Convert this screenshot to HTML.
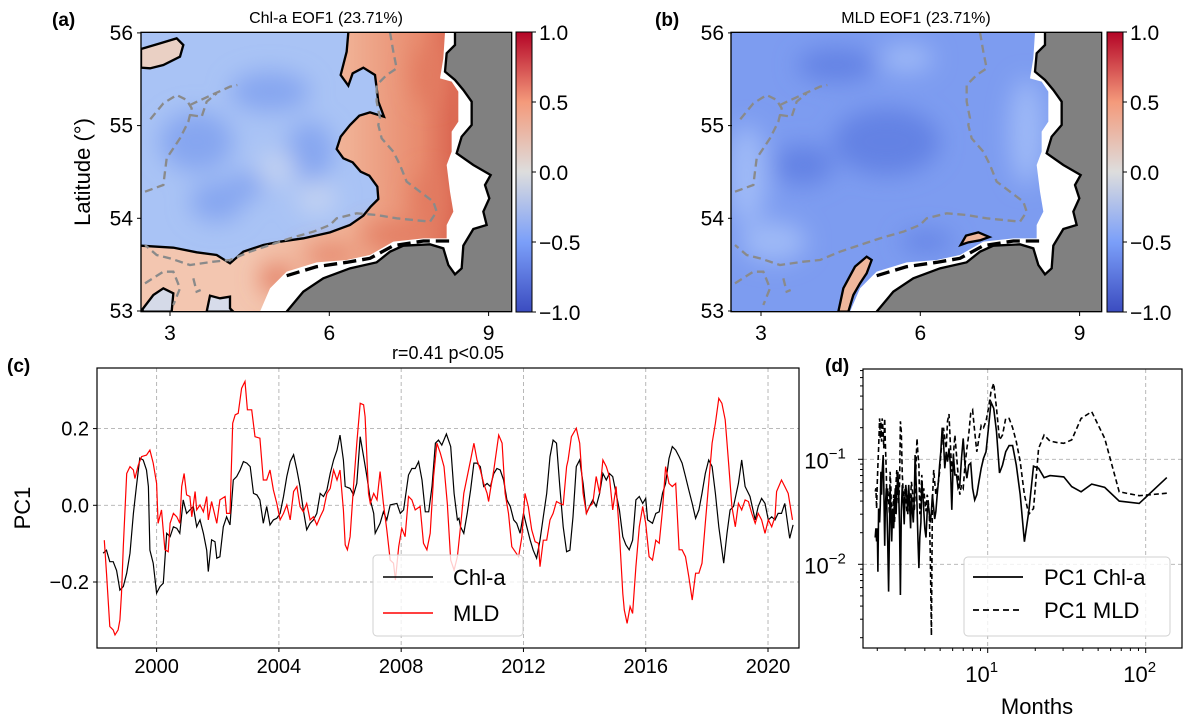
<!DOCTYPE html>
<html><head><meta charset="utf-8">
<style>
body{margin:0;background:#fff;}
svg{display:block;font-family:"Liberation Sans",Arial,sans-serif;}
</style></head>
<body>
<svg id="fig" width="1194" height="725" viewBox="0 0 1194 725" xmlns="http://www.w3.org/2000/svg">
<defs>
  <linearGradient id="cw" x1="0" y1="1" x2="0" y2="0">
    <stop offset="0" stop-color="#3b4cc0"/><stop offset="0.25" stop-color="#7b9ff9"/>
    <stop offset="0.5" stop-color="#dddddd"/><stop offset="0.75" stop-color="#f49a7b"/>
    <stop offset="1" stop-color="#b40426"/>
  </linearGradient>
  <linearGradient id="redA" gradientUnits="userSpaceOnUse" x1="350" y1="0" x2="960" y2="0">
    <stop offset="0" stop-color="#f3c6b0"/><stop offset="0.5" stop-color="#f0b094"/>
    <stop offset="0.85" stop-color="#e88b6e"/><stop offset="1" stop-color="#dc6a54"/>
  </linearGradient>
  <filter id="blur" x="-50%" y="-50%" width="200%" height="200%"><feGaussianBlur stdDeviation="35"/></filter>
  <clipPath id="mapclip"><rect x="33" y="22" width="1112" height="838"/></clipPath>
</defs>

<text x="52" y="26" font-size="19" font-weight="bold">(a)</text>
<text x="326" y="23" font-size="16" text-anchor="middle">Chl-a EOF1 (23.71%)</text>
<text x="655" y="26" font-size="19" font-weight="bold">(b)</text>
<text x="916" y="23" font-size="16" text-anchor="middle">MLD EOF1 (23.71%)</text>
<text x="7" y="372" font-size="19" font-weight="bold">(c)</text>
<text x="448" y="359" font-size="18" text-anchor="middle">r=0.41 p&lt;0.05</text>
<text x="825" y="372" font-size="19" font-weight="bold">(d)</text>

<g id="mapA" transform="translate(130,25) scale(0.33333)"></g>
<g id="mapB" transform="translate(720,25) scale(0.33333)"></g>

<g id="cbA"></g>
<g id="cbB"></g>
<g id="mapAxes"></g>
<text transform="translate(90,172) rotate(-90)" font-size="22" text-anchor="middle">Latitude (°)</text>

<g id="panelC"></g>
<g id="panelD"></g>
</svg>

<script>
// ---------- Panel (c) data ----------
const chlYears=[1998.25,1998.36,1998.47,1998.58,1998.69,1998.80,1998.91,1999.02,1999.13,1999.24,1999.34,1999.45,1999.56,1999.67,1999.73,1999.78,1999.89,2000.00,2000.11,2000.22,2000.33,2000.44,2000.55,2000.66,2000.76,2000.87,2000.98,2001.09,2001.20,2001.31,2001.42,2001.53,2001.64,2001.69,2001.80,2001.91,2001.97,2002.07,2002.18,2002.29,2002.40,2002.51,2002.62,2002.73,2002.84,2002.95,2003.06,2003.17,2003.28,2003.38,2003.49,2003.60,2003.71,2003.82,2003.93,2004.04,2004.15,2004.26,2004.37,2004.48,2004.59,2004.69,2004.80,2004.91,2005.02,2005.13,2005.24,2005.35,2005.46,2005.57,2005.68,2005.79,2005.90,2006.00,2006.11,2006.17,2006.33,2006.44,2006.55,2006.66,2006.77,2006.88,2006.99,2007.10,2007.15,2007.31,2007.42,2007.53,2007.64,2007.86,2007.97,2008.08,2008.24,2008.35,2008.46,2008.57,2008.68,2008.79,2008.90,2009.01,2009.12,2009.22,2009.33,2009.48,2009.62,2009.73,2009.84,2009.89,2009.94,2010.05,2010.16,2010.27,2010.38,2010.48,2010.59,2010.70,2010.81,2010.92,2011.03,2011.13,2011.24,2011.35,2011.46,2011.57,2011.68,2011.78,2011.89,2012.00,2012.11,2012.22,2012.32,2012.43,2012.54,2012.65,2012.76,2012.87,2012.97,2013.08,2013.19,2013.30,2013.41,2013.52,2013.62,2013.73,2013.84,2013.95,2014.06,2014.16,2014.27,2014.38,2014.49,2014.60,2014.71,2014.81,2014.92,2015.03,2015.14,2015.25,2015.35,2015.46,2015.57,2015.68,2015.79,2015.90,2016.00,2016.06,2016.22,2016.33,2016.44,2016.55,2016.65,2016.76,2016.87,2016.98,2017.09,2017.19,2017.30,2017.41,2017.52,2017.63,2017.74,2017.84,2017.95,2018.06,2018.17,2018.28,2018.39,2018.55,2018.66,2018.76,2018.87,2019.03,2019.14,2019.25,2019.41,2019.58,2019.68,2019.79,2019.90,2020.01,2020.12,2020.23,2020.33,2020.44,2020.55,2020.71,2020.82];
const chlValues=[-0.125,-0.117,-0.147,-0.147,-0.170,-0.221,-0.212,-0.177,-0.125,-0.021,0.049,0.123,0.118,0.092,0.049,-0.117,-0.151,-0.229,-0.212,-0.203,-0.073,-0.082,-0.056,-0.060,-0.073,0.014,-0.021,-0.012,-0.003,-0.056,-0.038,-0.073,-0.117,-0.173,-0.090,-0.095,-0.138,-0.134,-0.056,-0.030,-0.051,0.066,0.075,0.092,0.114,0.110,0.101,0.031,0.027,0.014,-0.047,-0.003,-0.051,-0.038,-0.034,-0.021,0.023,0.075,0.114,0.132,0.092,0.049,-0.012,-0.064,-0.047,-0.038,-0.021,0.031,0.023,0.040,0.083,0.118,0.144,0.183,0.118,0.049,0.044,0.027,0.057,0.179,0.127,0.075,0.014,-0.021,-0.073,-0.047,-0.017,-0.038,0.001,0.005,-0.021,-0.012,0.079,0.096,0.096,0.114,0.066,-0.017,-0.017,0.049,0.162,0.170,0.157,0.186,0.153,0.031,-0.038,-0.034,-0.056,-0.073,-0.021,0.040,0.110,0.110,0.101,0.049,0.057,0.049,0.083,0.096,0.092,0.066,0.014,-0.003,-0.038,-0.047,-0.073,-0.021,-0.056,-0.091,-0.117,-0.138,-0.091,-0.030,0.031,0.127,0.170,0.162,0.049,-0.056,-0.121,-0.117,-0.030,0.101,0.118,0.057,-0.021,-0.003,0.014,-0.003,0.031,0.083,0.066,0.083,0.075,0.031,-0.012,-0.082,-0.103,-0.116,-0.091,0.014,0.023,0.005,0.018,-0.038,-0.047,-0.021,-0.017,0.031,0.057,0.122,0.153,0.144,0.127,0.110,0.075,0.040,0.005,-0.034,-0.012,0.031,0.083,0.118,0.101,0.031,-0.056,-0.151,-0.073,-0.012,-0.003,0.057,0.118,0.049,0.023,-0.038,-0.003,0.018,0.005,-0.038,-0.030,-0.038,-0.021,-0.021,0.005,-0.086,-0.051];
const mldYears=[1998.29,1998.36,1998.47,1998.58,1998.64,1998.74,1998.80,1998.85,1998.91,1999.02,1999.13,1999.24,1999.29,1999.40,1999.51,1999.67,1999.78,1999.89,2000.00,2000.05,2000.16,2000.27,2000.38,2000.44,2000.55,2000.66,2000.76,2000.82,2000.90,2000.98,2001.09,2001.15,2001.26,2001.31,2001.42,2001.53,2001.64,2001.69,2001.80,2001.97,2002.07,2002.24,2002.29,2002.40,2002.49,2002.57,2002.67,2002.78,2002.89,2002.97,2003.11,2003.22,2003.38,2003.49,2003.60,2003.71,2003.82,2003.93,2004.04,2004.15,2004.26,2004.37,2004.48,2004.59,2004.69,2004.80,2004.91,2005.02,2005.13,2005.24,2005.35,2005.46,2005.57,2005.68,2005.79,2005.90,2006.00,2006.11,2006.17,2006.24,2006.33,2006.44,2006.55,2006.66,2006.77,2006.82,2006.93,2006.99,2007.10,2007.21,2007.31,2007.42,2007.53,2007.64,2007.75,2007.81,2007.92,2008.02,2008.13,2008.24,2008.35,2008.46,2008.62,2008.73,2008.84,2008.95,2009.06,2009.17,2009.28,2009.40,2009.51,2009.62,2009.73,2009.84,2009.94,2010.05,2010.27,2010.38,2010.48,2010.59,2010.70,2010.81,2010.86,2010.92,2011.03,2011.19,2011.30,2011.40,2011.51,2011.62,2011.73,2011.84,2011.95,2012.05,2012.16,2012.27,2012.38,2012.49,2012.54,2012.65,2012.76,2012.87,2012.97,2013.08,2013.19,2013.30,2013.41,2013.46,2013.57,2013.73,2013.84,2013.95,2014.06,2014.16,2014.27,2014.38,2014.49,2014.60,2014.71,2014.81,2014.92,2015.03,2015.14,2015.25,2015.30,2015.39,2015.49,2015.57,2015.68,2015.79,2015.90,2016.00,2016.11,2016.22,2016.33,2016.44,2016.55,2016.65,2016.76,2016.87,2016.98,2017.09,2017.19,2017.30,2017.41,2017.52,2017.63,2017.74,2017.84,2017.95,2018.06,2018.17,2018.28,2018.39,2018.49,2018.60,2018.71,2018.82,2018.93,2019.03,2019.14,2019.25,2019.36,2019.47,2019.58,2019.68,2019.79,2019.90,2020.01,2020.12,2020.23,2020.28,2020.44,2020.55,2020.66,2020.80];
const mldValues=[-0.091,-0.177,-0.316,-0.325,-0.338,-0.325,-0.299,-0.230,-0.108,0.083,0.101,0.092,0.070,0.105,0.127,0.131,0.144,0.110,0.057,-0.047,-0.012,-0.116,-0.121,-0.047,-0.021,-0.030,-0.047,0.049,0.083,0.027,0.023,-0.030,0.036,-0.012,0.001,-0.017,0.023,-0.038,0.010,-0.047,0.014,0.023,-0.021,-0.021,0.214,0.236,0.240,0.305,0.323,0.249,0.249,0.179,0.175,0.066,0.066,0.092,0.040,0.005,-0.038,-0.021,0.001,-0.038,0.036,0.049,-0.003,-0.017,0.005,-0.038,-0.030,-0.051,-0.030,-0.012,0.031,0.044,0.092,0.066,0.092,-0.012,-0.103,-0.116,-0.082,0.049,0.162,0.266,0.262,0.231,0.031,0.005,0.031,0.014,0.088,0.005,-0.064,-0.143,-0.151,-0.195,-0.108,-0.060,-0.082,0.023,0.014,-0.012,-0.003,-0.099,-0.116,-0.073,0.075,0.162,0.136,0.101,0.005,-0.143,-0.169,-0.134,-0.056,0.031,0.118,0.162,0.118,0.092,0.057,0.031,0.010,0.040,0.092,0.183,0.162,0.031,-0.021,-0.108,-0.121,-0.134,-0.082,0.031,-0.003,-0.064,-0.095,-0.099,-0.160,-0.091,-0.091,-0.038,-0.021,0.010,0.005,0.001,0.101,0.118,0.179,0.201,0.162,0.031,-0.021,-0.003,0.005,0.075,0.031,0.118,0.101,0.075,-0.012,0.049,-0.073,-0.230,-0.273,-0.308,-0.264,-0.282,-0.160,-0.056,-0.003,-0.047,-0.134,-0.143,-0.091,-0.099,-0.012,0.101,0.057,0.049,0.057,-0.116,-0.116,-0.134,-0.186,-0.247,-0.177,-0.177,-0.151,-0.047,0.057,0.162,0.214,0.279,0.266,0.223,0.110,-0.003,-0.056,0.005,-0.012,0.014,0.010,-0.021,-0.047,-0.021,-0.038,-0.073,-0.038,-0.056,-0.030,0.036,0.066,0.049,0.031,-0.038];
const cYearTicks=[2000,2004,2008,2012,2016,2020];
const cValueTicks=[-0.2,0.0,0.2];
const cValueTickLabels=["\u22120.2","0.0","0.2"];

// ---------- Panel (d) data ----------
const periods=[136,91,68,55,45.5,39,34,30.3,27.3,24.8,22.75,21,19.5,18.2,17.06,16.06,15.17,14.37,13.65,13.0,12.4,11.87,11.375,10.92,10.5,10.11,9.75,9.41,9.1,8.8,8.53,8.27,8.03,7.8,7.58,7.38,7.18,7.0,6.83,6.66,6.5,6.35,6.2,6.07,5.93,5.81,5.69,5.57,5.46,5.35,5.25,5.15,5.05,4.96,4.875,4.79,4.7,4.62,4.55,4.47,4.4,4.33,4.27,4.2,4.14,4.07,4.0,3.94,3.89,3.83,3.78,3.72,3.67,3.62,3.57,3.52,3.47,3.43,3.38,3.33,3.29,3.25,3.2,3.16,3.12,3.08,3.03,3.0,2.96,2.92,2.88,2.84,2.8,2.77,2.73,2.7,2.66,2.63,2.6,2.57,2.54,2.5,2.47,2.44,2.41,2.39,2.36,2.33,2.3,2.28,2.25,2.23,2.2,2.18,2.15,2.13,2.11,2.09,2.07,2.04,2.02,2.0,1.98,1.96,1.94];
const chlPower=[0.067,0.038,0.040,0.054,0.058,0.049,0.055,0.068,0.069,0.070,0.067,0.082,0.086,0.032,0.0164,0.046,0.088,0.135,0.135,0.118,0.088,0.074,0.183,0.306,0.35,0.2,0.118,0.102,0.082,0.061,0.046,0.041,0.053,0.092,0.088,0.066,0.088,0.158,0.102,0.057,0.053,0.071,0.071,0.11,0.033,0.088,0.127,0.095,0.118,0.082,0.147,0.2,0.118,0.088,0.061,0.046,0.032,0.027,0.034,0.046,0.032,0.025,0.03,0.038,0.032,0.018,0.022,0.032,0.046,0.061,0.025,0.018,0.0092,0.0165,0.037,0.061,0.11,0.043,0.025,0.034,0.046,0.022,0.04,0.057,0.03,0.043,0.057,0.046,0.024,0.04,0.057,0.032,0.0051,0.022,0.053,0.076,0.046,0.03,0.053,0.037,0.022,0.034,0.0165,0.032,0.053,0.022,0.0055,0.0165,0.034,0.053,0.034,0.015,0.057,0.11,0.076,0.046,0.076,0.037,0.025,0.034,0.0085,0.022,0.0165,0.022,0.018];
const mldPower=[0.0475,0.045,0.049,0.158,0.284,0.245,0.153,0.142,0.145,0.149,0.17,0.127,0.034,0.03,0.046,0.095,0.147,0.2,0.245,0.245,0.17,0.153,0.306,0.53,0.44,0.306,0.23,0.2,0.21,0.158,0.118,0.183,0.295,0.275,0.17,0.127,0.088,0.053,0.057,0.046,0.071,0.11,0.17,0.11,0.076,0.137,0.27,0.23,0.127,0.158,0.2,0.158,0.11,0.076,0.061,0.053,0.046,0.061,0.079,0.04,0.0021,0.0123,0.03,0.04,0.046,0.032,0.04,0.053,0.043,0.071,0.046,0.03,0.088,0.11,0.158,0.095,0.046,0.032,0.04,0.053,0.061,0.043,0.032,0.053,0.04,0.032,0.046,0.053,0.037,0.049,0.071,0.183,0.23,0.061,0.037,0.053,0.079,0.061,0.037,0.025,0.046,0.032,0.022,0.053,0.076,0.03,0.04,0.053,0.037,0.076,0.147,0.245,0.127,0.183,0.245,0.147,0.23,0.158,0.245,0.127,0.088,0.061,0.034,0.053,0.049];
const dPeriodTicks=[10,100];
const dPowerTicks=[0.01,0.1];

const cbTicks=[1.0,0.5,0.0,-0.5,-1.0];
const cbTickLabels=["1.0","0.5","0.0","\u22120.5","\u22121.0"];
const latTicks=[56,55,54,53];
const lonTicks=[3,6,9];

const NS="http://www.w3.org/2000/svg";
function mk(parent,tag,attrs,text){const e=document.createElementNS(NS,tag);for(const k in attrs)e.setAttribute(k,attrs[k]);if(text!==undefined)e.textContent=text;parent.appendChild(e);return e;}

// ---------- Maps ----------
const landPath="M470,860 L520,800 L580,760 L660,730 L740,712 L780,680 L820,662 L900,658 L940,670 L955,720 L975,748 L995,730 L1000,662 L1030,612 L1070,600 L1060,560 L1078,520 L1065,480 L1082,450 L1030,420 L980,385 L995,335 L1025,300 L1025,230 L1000,195 L975,165 L945,140 L950,85 L975,60 L975,22 L1145,22 L1145,860 Z";
const whitePath="M390,860 L420,790 L470,740 L560,712 L650,705 L720,690 L790,650 L880,640 L950,640 L950,600 L970,560 L960,500 L950,420 L965,380 L965,320 L985,290 L985,200 L965,170 L930,160 L940,100 L945,22 L1145,22 L1145,860 Z";
const coastLine="M470,860 L520,800 L580,760 L660,730 L740,712 L780,680 L820,662 L900,658 L940,670 L955,720 L975,748 L995,730 L1000,662 L1030,612 L1070,600 L1060,560 L1078,520 L1065,480 L1082,450 L1030,420 L980,385 L995,335 L1025,300 L1025,230 L1000,195 L975,165 L945,140 L950,85 L975,60 L975,22";
const islands="M470,752 L560,725 L650,712 L720,700 L790,662 L880,648 L960,648";
const dashed=[
 "M45,500 L100,480 L110,400 L150,340 L175,290 L185,250 L170,225 L140,210 L100,235 L55,290",
 "M180,240 L240,212 L300,185 L322,180",
 "M180,270 L215,275 L230,230 L260,205",
 "M780,22 L790,80 L800,130 L770,150 L740,180 L740,230 L750,280 L745,300 L755,340 L790,380 L810,420 L830,470 L870,500 L910,530 L920,560 L900,590 L850,585 L800,580 L740,570 L680,565 L620,580 L600,600 L550,620 L480,640 L420,660 L360,680 L300,705 L250,710 L180,720 L120,700 L80,690 L45,660",
 "M45,775 L100,740 L130,740 L150,790 L130,840",
 "M190,760 L200,800 L212,795"
];
const zeroContourA="M655,22 L650,80 L632,150 L655,182 L668,145 L700,128 L735,150 L745,230 L762,275 L720,262 L688,272 L660,300 L632,335 L620,372 L640,400 L668,412 L692,440 L718,452 L742,485 L745,522 L722,545 L700,572 L660,600 L600,622 L520,640 L450,650 L400,660 L340,680 L300,715 L260,690 L200,682 L130,668 L33,662";

function drawMap(g,kind){
  const c=mk(g,'g',{'clip-path':'url(#mapclip)'});
  if(kind==='a'){
    mk(c,'rect',{x:33,y:22,width:1112,height:838,fill:'#a9c3f5'});
    const bl=mk(c,'g',{filter:'url(#blur)'});
    [[200,350,110,90],[260,530,80,60],[540,380,70,90],[420,200,120,60],[350,480,60,40]].forEach(p=>mk(bl,'ellipse',{cx:p[0],cy:p[1],rx:p[2],ry:p[3],fill:'#86a6f0'}));
    [[440,430,60,50],[560,520,60,50]].forEach(p=>mk(bl,'ellipse',{cx:p[0],cy:p[1],rx:p[2],ry:p[3],fill:'#c2d2f2'}));
    mk(c,'path',{d:zeroContourA+" L33,860 L1145,860 L1145,22 Z",fill:'url(#redA)'});
    const rb=mk(c,'g',{filter:'url(#blur)'});
    [[900,150,50,90],[900,520,50,80],[800,630,110,35],[600,690,80,25],[440,760,50,40]].forEach(p=>mk(rb,'ellipse',{cx:p[0],cy:p[1],rx:p[2],ry:p[3],fill:'#e27a60'}));
    mk(c,'path',{d:"M33,72 L90,55 L140,40 L160,60 L150,95 L100,120 L60,130 L33,128Z",fill:'#ead0c4',stroke:'#000','stroke-width':7});
    mk(c,'path',{d:"M38,852 L70,810 L100,790 L130,805 L125,860 L38,860Z",fill:'#d5dae8',stroke:'#000','stroke-width':7});
    mk(c,'path',{d:"M230,860 L240,812 L270,820 L300,815 L300,850 L310,860Z",fill:'#d7dcea',stroke:'#000','stroke-width':7});
  } else {
    mk(c,'rect',{x:33,y:22,width:1112,height:838,fill:'#7d9cf0'});
    const bl=mk(c,'g',{filter:'url(#blur)'});
    [[500,350,160,100],[250,420,90,60],[620,650,80,30],[350,120,120,50]].forEach(p=>mk(bl,'ellipse',{cx:p[0],cy:p[1],rx:p[2],ry:p[3],fill:'#6382e4'}));
    [[80,450,60,150],[920,320,50,160],[160,650,100,60],[560,100,80,40]].forEach(p=>mk(bl,'ellipse',{cx:p[0],cy:p[1],rx:p[2],ry:p[3],fill:'#9fbaf7'}));
    mk(c,'path',{d:"M355,860 L370,790 L405,725 L440,695 L455,705 L440,745 L420,775 L400,810 L385,860Z",fill:'#efb79c',stroke:'#000','stroke-width':7});
    mk(c,'path',{d:"M722,660 L738,632 L775,622 L808,636 L780,646 L745,652Z",fill:'#efb79c',stroke:'#000','stroke-width':7});
  }
  mk(c,'path',{d:whitePath,fill:'#fff'});
  mk(c,'path',{d:landPath,fill:'#808080'});
  mk(c,'path',{d:coastLine,fill:'none',stroke:'#000','stroke-width':7});
  mk(c,'path',{d:islands,fill:'none',stroke:'#000','stroke-width':10,'stroke-dasharray':'40 18'});
  if(kind==='a') mk(c,'path',{d:zeroContourA,fill:'none',stroke:'#000','stroke-width':7});
  dashed.forEach(d=>mk(c,'path',{d:d,fill:'none',stroke:'#8a8a8a','stroke-width':7,'stroke-dasharray':'24 14'}));
  mk(g,'rect',{x:33,y:22,width:1112,height:838,fill:'none',stroke:'#000','stroke-width':4});
}
const mA=document.getElementById('mapA');drawMap(mA,'a');
const mB=document.getElementById('mapB');drawMap(mB,'b');

const ax=document.getElementById('mapAxes');
function latY(l){return 311-(l-53)*92.7;}
function lonX(l,off){return off+(l-3)*53.1;}
[[141,170],[732,761]].forEach(([left,x3],i)=>{
  latTicks.forEach(l=>{
    const y=latY(l);
    mk(ax,'line',{x1:left-4,y1:y,x2:left,y2:y,stroke:'#000'});
    const t=mk(ax,'text',{x:left-8,y:y+7,'font-size':21,'text-anchor':'end'},String(l));
    
    
  });
  lonTicks.forEach(l=>{
    const x=lonX(l,x3);
    mk(ax,'line',{x1:x,y1:312,x2:x,y2:316,stroke:'#000'});
    const t=mk(ax,'text',{x:x,y:340,'font-size':21,'text-anchor':'middle'},String(l));
    
    
  });
});
function drawCb(g,x){
  mk(g,'rect',{x:x,y:32,width:16,height:280,fill:'url(#cw)',stroke:'#000','stroke-width':1});
  cbTicks.forEach((v,i)=>{
    const y=172-v*140;
    mk(g,'line',{x1:x+16,y1:y,x2:x+20,y2:y,stroke:'#000'});
    const t=mk(g,'text',{x:x+23,y:y+8,'font-size':21},cbTickLabels[i]);
    
    
  });
}
drawCb(document.getElementById('cbA'),516);
drawCb(document.getElementById('cbB'),1107);

// ---------- Panel (c) ----------
const pc=document.getElementById('panelC');
const cL=97,cR=799,cT=368,cB=648;
function xc(yr){return 97+(yr-1998.05)*30.57;}
function yc(v){return 505.3-v*383.5;}
cYearTicks.forEach(yr=>{
  const x=xc(yr);
  mk(pc,'line',{x1:x,y1:cT,x2:x,y2:cB,stroke:'#b0b0b0','stroke-dasharray':'4 3','stroke-width':0.9});
  mk(pc,'line',{x1:x,y1:cB,x2:x,y2:cB+4,stroke:'#000'});
  const t=mk(pc,'text',{x:x,y:cB+25,'font-size':20,'text-anchor':'middle'},String(yr));
  
  
});
cValueTicks.forEach((v,i)=>{
  const y=yc(v);
  mk(pc,'line',{x1:cL,y1:y,x2:cR,y2:y,stroke:'#b0b0b0','stroke-dasharray':'4 3','stroke-width':0.9});
  mk(pc,'line',{x1:cL-4,y1:y,x2:cL,y2:y,stroke:'#000'});
  const t=mk(pc,'text',{x:cL-8,y:y+7,'font-size':20,'text-anchor':'end'},cValueTickLabels[i]);
  
  
});
const yl=mk(pc,'text',{transform:'translate(30,508) rotate(-90)','font-size':22,'text-anchor':'middle'},'PC1');


function linePath(xs,ys,fx,fy){return xs.map((x,i)=>(i?'L':'M')+fx(x).toFixed(1)+','+fy(ys[i]).toFixed(1)).join(' ');}
const chlLine=mk(pc,'path',{d:linePath(chlYears,chlValues,xc,yc),fill:'none',stroke:'#000','stroke-width':1.2});


const mldLine=mk(pc,'path',{d:linePath(mldYears,mldValues,xc,yc),fill:'none',stroke:'#ff0000','stroke-width':1.2});


mk(pc,'rect',{x:cL,y:cT,width:cR-cL,height:cB-cT,fill:'none',stroke:'#000','stroke-width':1.2});
const lgC=mk(pc,'g',{});


mk(lgC,'rect',{x:373,y:555,width:150,height:81,rx:4,fill:'#fff','fill-opacity':0.8,stroke:'#d0d0d0'});
mk(lgC,'line',{x1:383,y1:577,x2:433,y2:577,stroke:'#000','stroke-width':1.4});
mk(lgC,'line',{x1:383,y1:613,x2:433,y2:613,stroke:'#f00','stroke-width':1.4});
mk(lgC,'text',{x:453,y:585,'font-size':22},'Chl-a');
mk(lgC,'text',{x:453,y:621,'font-size':22},'MLD');

// ---------- Panel (d) ----------
const pd=document.getElementById('panelD');
const dL=863,dR=1182,dT=369,dB=648;
function xd(p){return 987.7+(Math.log10(p)-1)*158;}
function yd(v){return 459.3-(Math.log10(v)+1)*105;}
dPeriodTicks.forEach(p=>{
  const x=xd(p);
  mk(pd,'line',{x1:x,y1:dT,x2:x,y2:dB,stroke:'#b0b0b0','stroke-dasharray':'4 3','stroke-width':0.9});
  mk(pd,'line',{x1:x,y1:dB,x2:x,y2:dB+5,stroke:'#000'});
  const t=mk(pd,'text',{x:x-6,y:dB+34,'font-size':22,'text-anchor':'middle'},'10');
  mk(t,'tspan',{dy:-10,'font-size':15},String(Math.round(Math.log10(p))));
  
  
});
[2,3,4,5,6,7,8,9,20,30,40,50,60,70,80,90,200].forEach(p=>{const x=xd(p);if(x>dL&&x<dR)mk(pd,'line',{x1:x,y1:dB,x2:x,y2:dB+3,stroke:'#000'});});
dPowerTicks.forEach(v=>{
  const y=yd(v);
  mk(pd,'line',{x1:dL,y1:y,x2:dR,y2:y,stroke:'#b0b0b0','stroke-dasharray':'4 3','stroke-width':0.9});
  mk(pd,'line',{x1:dL-5,y1:y,x2:dL,y2:y,stroke:'#000'});
  const t=mk(pd,'text',{x:dL-38,y:y+9,'font-size':22,'text-anchor':'middle'},'10');
  mk(t,'tspan',{dy:-10,'font-size':15},'\u2212'+String(Math.round(-Math.log10(v))));
  
  
});
[0.002,0.003,0.004,0.005,0.006,0.007,0.008,0.009,0.02,0.03,0.04,0.05,0.06,0.07,0.08,0.09,0.2,0.3,0.4,0.5,0.6,0.7].forEach(v=>{const y=yd(v);if(y>dT&&y<dB)mk(pd,'line',{x1:dL-3,y1:y,x2:dL,y2:y,stroke:'#000'});});
const xlab=mk(pd,'text',{x:1037,y:714,'font-size':22,'text-anchor':'middle'},'Months');


const sc=mk(pd,'path',{d:linePath(periods,chlPower,xd,yd),fill:'none',stroke:'#000','stroke-width':1.6});


const sm=mk(pd,'path',{d:linePath(periods,mldPower,xd,yd),fill:'none',stroke:'#000','stroke-width':1.6,'stroke-dasharray':'5 3'});


mk(pd,'rect',{x:dL,y:dT,width:dR-dL,height:dB-dT,fill:'none',stroke:'#000','stroke-width':1.2});
const lgD=mk(pd,'g',{});


mk(lgD,'rect',{x:964,y:557,width:206,height:79,rx:4,fill:'#fff','fill-opacity':0.8,stroke:'#d0d0d0'});
mk(lgD,'line',{x1:973,y1:577,x2:1023,y2:577,stroke:'#000','stroke-width':1.8});
mk(lgD,'line',{x1:973,y1:610,x2:1023,y2:610,stroke:'#000','stroke-width':1.8,'stroke-dasharray':'6 4'});
mk(lgD,'text',{x:1044,y:585,'font-size':22},'PC1 Chl-a');
mk(lgD,'text',{x:1044,y:618,'font-size':22},'PC1 MLD');
</script>
</body></html>
